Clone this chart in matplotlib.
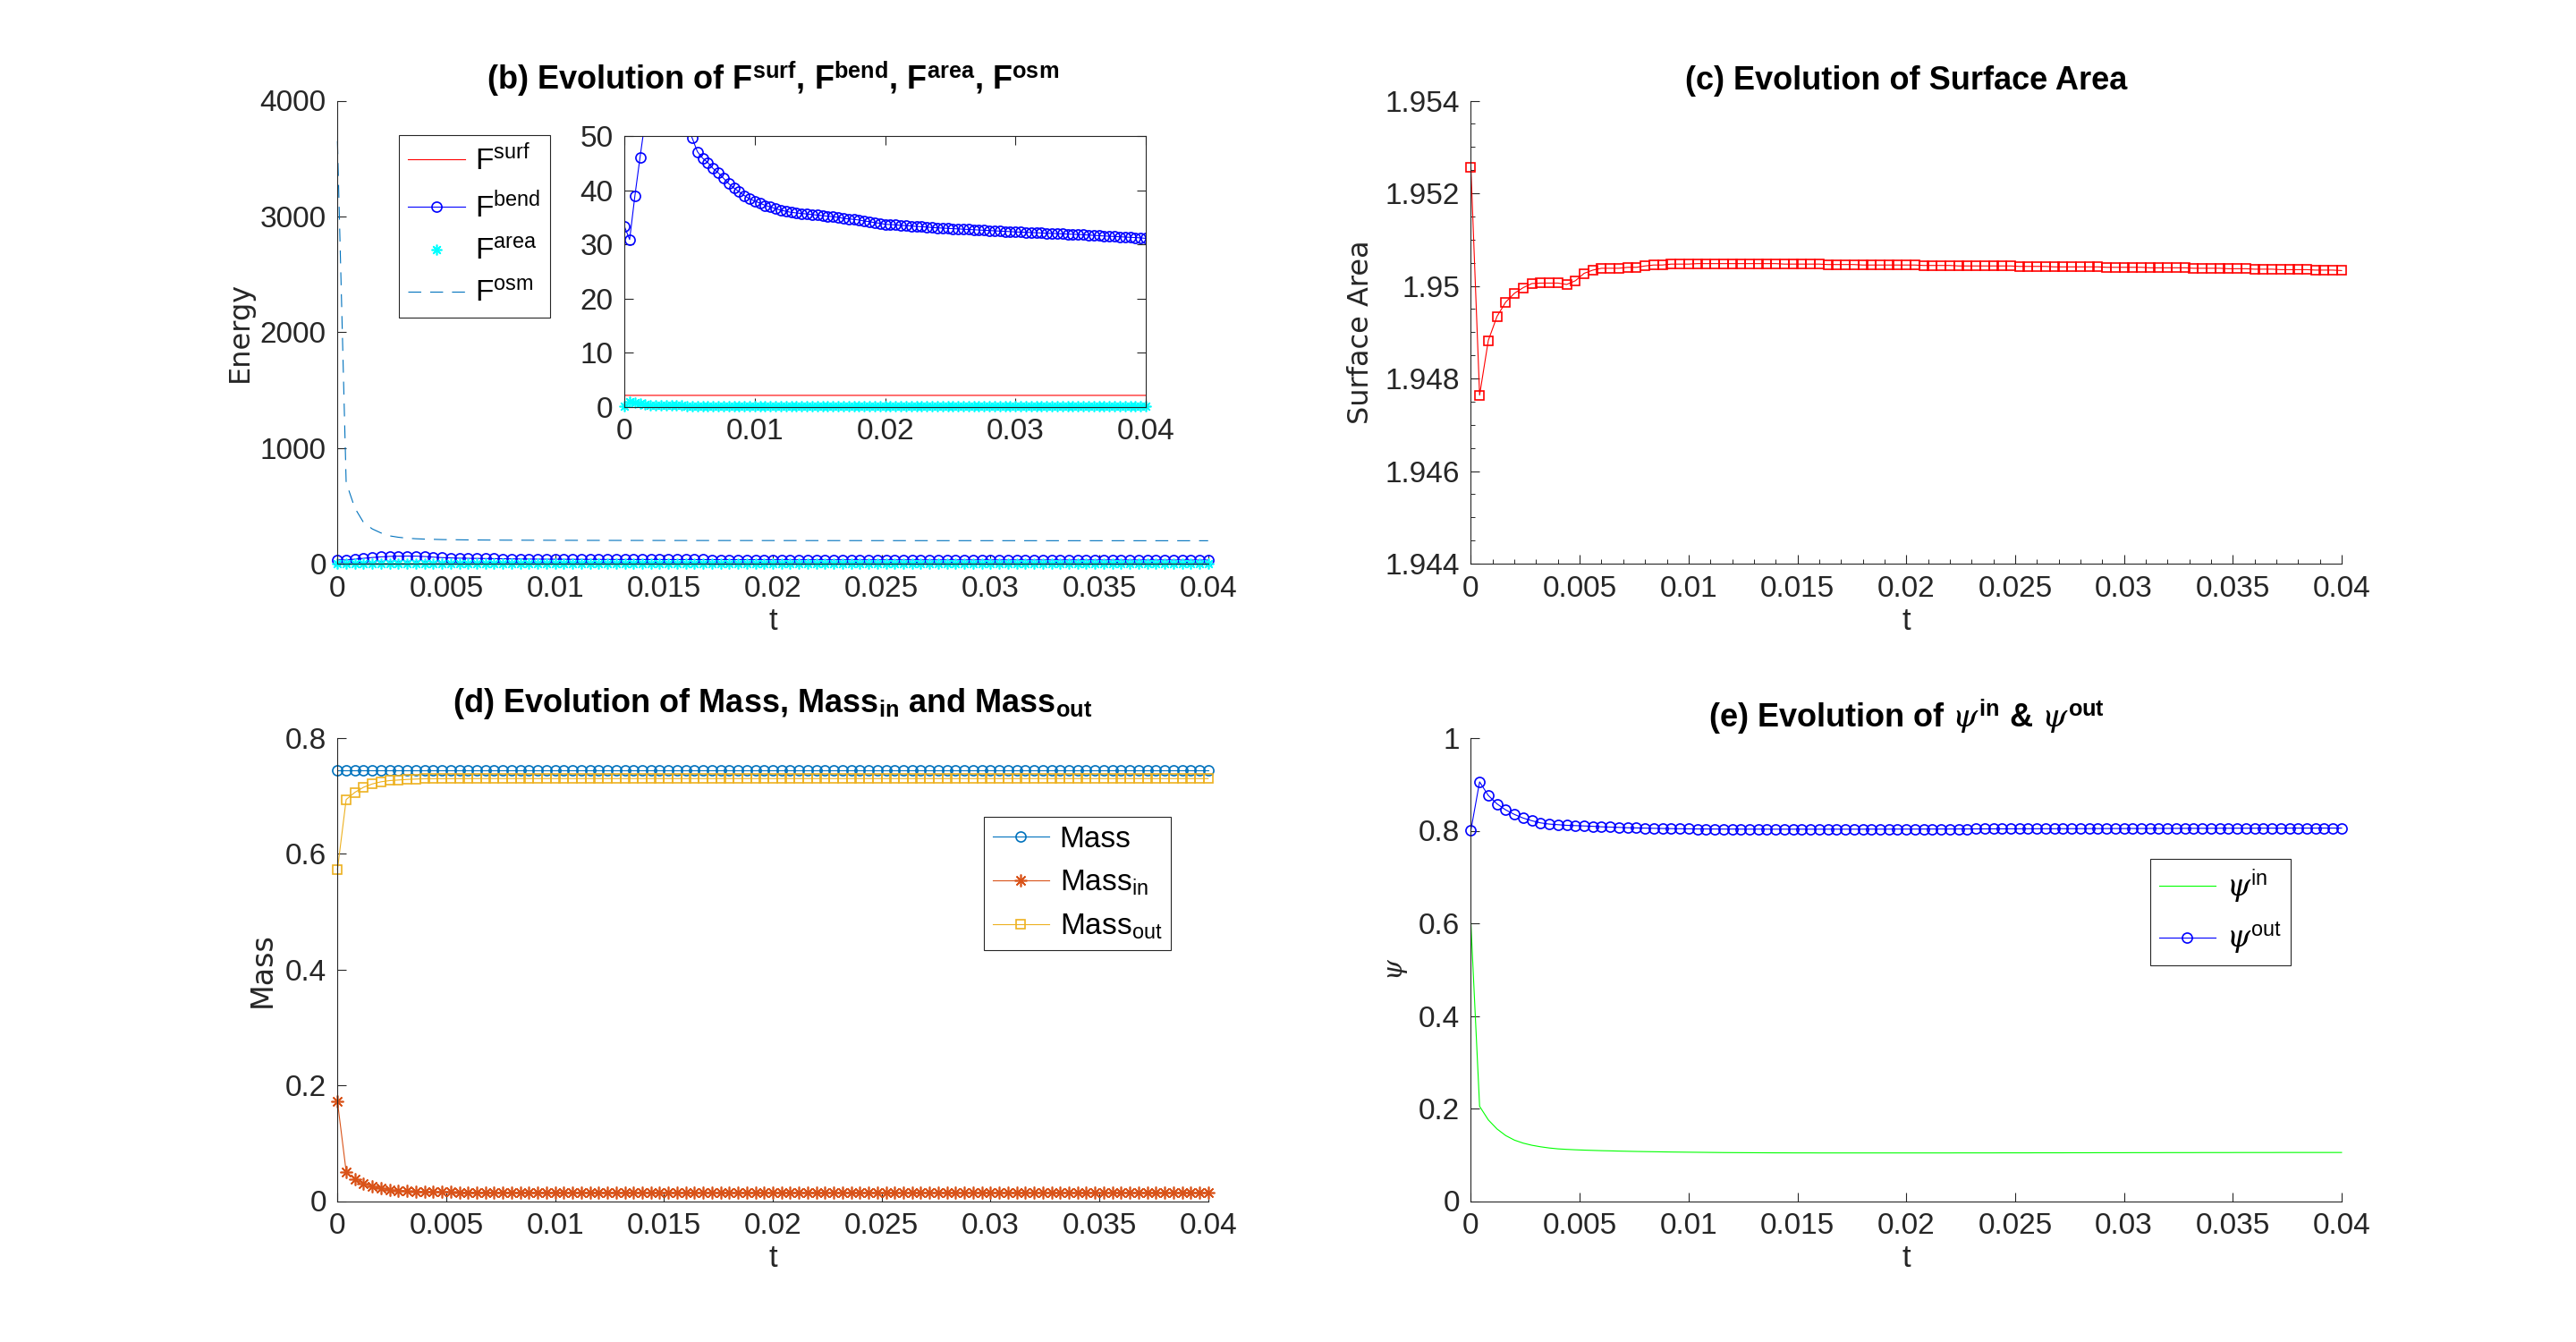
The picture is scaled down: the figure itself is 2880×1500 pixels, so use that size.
import numpy as np
import matplotlib
matplotlib.use("Agg")
import matplotlib.pyplot as plt
from matplotlib.ticker import FuncFormatter, MultipleLocator

plt.rcParams['font.family'] = ['Liberation Sans', 'DejaVu Sans']
plt.rcParams['mathtext.fontset'] = 'custom'
plt.rcParams['mathtext.rm'] = 'Liberation Sans'
plt.rcParams['mathtext.bf'] = 'Liberation Sans:bold'
plt.rcParams['mathtext.it'] = 'DejaVu Serif:italic'

# time grid: 101 saved steps, dt = 0.0004
t = np.round(np.arange(101) * 0.0004, 4)

# (b) energies
f_surf = [2.155, 2.148, 2.149, 2.15, 2.15, 2.15, 2.15, 2.15, 2.15, 2.15,
          2.15, 2.15, 2.15, 2.15, 2.15, 2.15, 2.15, 2.15, 2.15, 2.15,
          2.15, 2.15, 2.15, 2.15, 2.15, 2.15, 2.15, 2.15, 2.15, 2.15,
          2.15, 2.15, 2.15, 2.15, 2.15, 2.15, 2.15, 2.15, 2.15, 2.15,
          2.15, 2.15, 2.15, 2.15, 2.15, 2.15, 2.15, 2.15, 2.15, 2.15,
          2.15, 2.15, 2.15, 2.15, 2.15, 2.15, 2.15, 2.15, 2.15, 2.15,
          2.15, 2.15, 2.15, 2.15, 2.15, 2.15, 2.15, 2.15, 2.15, 2.15,
          2.15, 2.15, 2.15, 2.15, 2.15, 2.15, 2.15, 2.15, 2.15, 2.15,
          2.15, 2.15, 2.15, 2.15, 2.15, 2.15, 2.15, 2.15, 2.15, 2.15,
          2.15, 2.15, 2.15, 2.15, 2.15, 2.15, 2.15, 2.15, 2.15, 2.15,
          2.15]
f_bend = [33.3, 30.9, 38.9, 46.1, 53.0, 58.5, 62.5, 64.5, 65.5, 65.0,
          61.5, 56.5, 52.2, 49.6, 47.1, 45.9, 45.1, 44.0, 43.2, 42.2,
          41.2, 40.4, 39.7, 39.0, 38.4, 38.0, 37.6, 37.2, 36.9, 36.6,
          36.3, 36.1, 35.9, 35.8, 35.7, 35.6, 35.5, 35.4, 35.3, 35.2,
          35.1, 35.0, 34.8, 34.7, 34.6, 34.5, 34.3, 34.2, 34.0, 33.9,
          33.7, 33.65, 33.6, 33.5, 33.45, 33.4, 33.3, 33.25, 33.2, 33.1,
          33.05, 33.0, 32.95, 32.9, 32.85, 32.8, 32.75, 32.7, 32.65, 32.6,
          32.55, 32.5, 32.45, 32.4, 32.35, 32.3, 32.26, 32.22, 32.18, 32.14,
          32.1, 32.06, 32.02, 31.98, 31.94, 31.9, 31.86, 31.82, 31.78, 31.72,
          31.66, 31.6, 31.55, 31.5, 31.45, 31.4, 31.35, 31.3, 31.25, 31.2,
          31.1]
f_area = [0.1, 0.9, 0.8, 0.6, 0.5, 0.4, 0.35, 0.3, 0.28, 0.26,
          0.25, 0.24, 0.23, 0.22, 0.22, 0.21, 0.21, 0.2, 0.2, 0.2,
          0.2, 0.2, 0.2, 0.2, 0.2, 0.2, 0.2, 0.2, 0.2, 0.2,
          0.2, 0.2, 0.2, 0.2, 0.2, 0.2, 0.2, 0.2, 0.2, 0.2,
          0.19, 0.19, 0.19, 0.19, 0.19, 0.19, 0.19, 0.19, 0.19, 0.19,
          0.19, 0.19, 0.19, 0.19, 0.19, 0.18, 0.18, 0.18, 0.18, 0.18,
          0.18, 0.18, 0.18, 0.18, 0.18, 0.18, 0.18, 0.18, 0.18, 0.18,
          0.18, 0.18, 0.18, 0.18, 0.18, 0.17, 0.17, 0.17, 0.17, 0.17,
          0.17, 0.17, 0.17, 0.17, 0.17, 0.17, 0.17, 0.17, 0.17, 0.17,
          0.17, 0.17, 0.17, 0.17, 0.17, 0.17, 0.17, 0.17, 0.17, 0.17,
          0.17]
f_osm = [3650, 700, 480, 355, 300, 265, 240, 228, 220, 215,
         212, 210, 208, 207, 206, 205, 204.5, 204, 203.5, 203,
         202.8, 202.6, 202.4, 202.2, 202, 201.8, 201.6, 201.4, 201.2, 201,
         200.9, 200.8, 200.7, 200.6, 200.5, 200.4, 200.3, 200.2, 200.1, 200.0,
         199.95, 199.9, 199.85, 199.8, 199.75, 199.7, 199.65, 199.6, 199.55, 199.5,
         199.45, 199.4, 199.35, 199.3, 199.25, 199.2, 199.15, 199.1, 199.05, 199.0,
         198.95, 198.9, 198.86, 198.82, 198.78, 198.74, 198.7, 198.66, 198.62, 198.58,
         198.54, 198.5, 198.47, 198.44, 198.41, 198.38, 198.35, 198.32, 198.29, 198.26,
         198.23, 198.2, 198.18, 198.16, 198.14, 198.12, 198.1, 198.08, 198.06, 198.04,
         198.02, 198.0, 197.98, 197.96, 197.94, 197.92, 197.9, 197.88, 197.86, 197.84,
         197.82]

# (c) surface area
area = [1.95256, 1.94764, 1.94882, 1.94934, 1.94965, 1.94984, 1.94996, 1.95005, 1.95006, 1.95006,
        1.95006, 1.95003, 1.95011, 1.95027, 1.95034, 1.95038, 1.95038, 1.95038, 1.9504, 1.9504,
        1.95043, 1.95045, 1.95045, 1.95047, 1.95047, 1.95047, 1.95048, 1.95048, 1.95048, 1.95048,
        1.95048, 1.95048, 1.95048, 1.95048, 1.95048, 1.95048, 1.95047, 1.95047, 1.95047, 1.95047,
        1.95047, 1.95046, 1.95046, 1.95046, 1.95046, 1.95045, 1.95045, 1.95045, 1.95045, 1.95045,
        1.95045, 1.95045, 1.95044, 1.95044, 1.95044, 1.95044, 1.95043, 1.95043, 1.95043, 1.95043,
        1.95043, 1.95043, 1.95043, 1.95042, 1.95042, 1.95042, 1.95042, 1.95041, 1.95041, 1.95041,
        1.95041, 1.95041, 1.95041, 1.9504, 1.9504, 1.9504, 1.9504, 1.9504, 1.95039, 1.95039,
        1.95039, 1.95039, 1.95039, 1.95038, 1.95038, 1.95038, 1.95038, 1.95037, 1.95037, 1.95037,
        1.95036, 1.95036, 1.95036, 1.95035, 1.95035, 1.95035, 1.95035, 1.95034, 1.95034, 1.95034,
        1.95033]

# (d) masses
mass = [0.7438, 0.7438, 0.7438, 0.7438, 0.7438, 0.7438, 0.7438, 0.7438, 0.7438, 0.7438,
        0.7438, 0.7438, 0.7438, 0.7438, 0.7438, 0.7438, 0.7438, 0.7438, 0.7438, 0.7438,
        0.7438, 0.7438, 0.7438, 0.7438, 0.7438, 0.7438, 0.7438, 0.7438, 0.7438, 0.7438,
        0.7438, 0.7438, 0.7438, 0.7438, 0.7438, 0.7438, 0.7438, 0.7438, 0.7438, 0.7438,
        0.7438, 0.7438, 0.7438, 0.7438, 0.7438, 0.7438, 0.7438, 0.7438, 0.7438, 0.7438,
        0.7438, 0.7438, 0.7438, 0.7438, 0.7438, 0.7438, 0.7438, 0.7438, 0.7438, 0.7438,
        0.7438, 0.7438, 0.7438, 0.7438, 0.7438, 0.7438, 0.7438, 0.7438, 0.7438, 0.7438,
        0.7438, 0.7438, 0.7438, 0.7438, 0.7438, 0.7438, 0.7438, 0.7438, 0.7438, 0.7438,
        0.7438, 0.7438, 0.7438, 0.7438, 0.7438, 0.7438, 0.7438, 0.7438, 0.7438, 0.7438,
        0.7438, 0.7438, 0.7438, 0.7438, 0.7438, 0.7438, 0.7438, 0.7438, 0.7438, 0.7438,
        0.7438]
mass_in = [0.1719, 0.0510, 0.0375, 0.0302, 0.0250, 0.0219, 0.0198, 0.0182, 0.0172, 0.0167,
           0.0161, 0.0158, 0.0156, 0.0155, 0.0154, 0.0153, 0.0152, 0.0151, 0.0150, 0.0150,
           0.0149, 0.0149, 0.0148, 0.0148, 0.0148, 0.0147, 0.0147, 0.0147, 0.0147, 0.0146,
           0.0146, 0.0146, 0.0146, 0.0146, 0.0146, 0.0145, 0.0145, 0.0145, 0.0145, 0.0145,
           0.0145, 0.0145, 0.0145, 0.0144, 0.0144, 0.0144, 0.0144, 0.0144, 0.0144, 0.0144,
           0.0144, 0.0144, 0.0144, 0.0144, 0.0144, 0.0144, 0.0144, 0.0144, 0.0144, 0.0144,
           0.0143, 0.0143, 0.0143, 0.0143, 0.0143, 0.0143, 0.0143, 0.0143, 0.0143, 0.0143,
           0.0143, 0.0143, 0.0143, 0.0143, 0.0143, 0.0143, 0.0143, 0.0143, 0.0143, 0.0143,
           0.0143, 0.0143, 0.0143, 0.0143, 0.0143, 0.0143, 0.0143, 0.0143, 0.0143, 0.0143,
           0.0143, 0.0143, 0.0143, 0.0143, 0.0143, 0.0143, 0.0143, 0.0143, 0.0143, 0.0143,
           0.0143]
mass_out = [0.5729, 0.6938, 0.7063, 0.7151, 0.7208, 0.7245, 0.7266, 0.7276, 0.7286, 0.7292,
            0.7297, 0.7297, 0.7298, 0.7298, 0.7299, 0.7299, 0.7300, 0.7300, 0.7300, 0.7300,
            0.7300, 0.7300, 0.7300, 0.7300, 0.7300, 0.7300, 0.7300, 0.7300, 0.7300, 0.7300,
            0.7300, 0.7300, 0.7300, 0.7300, 0.7300, 0.7300, 0.7300, 0.7300, 0.7300, 0.7300,
            0.7300, 0.7300, 0.7300, 0.7300, 0.7300, 0.7300, 0.7300, 0.7300, 0.7300, 0.7300,
            0.7300, 0.7300, 0.7300, 0.7300, 0.7300, 0.7300, 0.7300, 0.7300, 0.7300, 0.7300,
            0.7300, 0.7300, 0.7300, 0.7300, 0.7300, 0.7300, 0.7300, 0.7300, 0.7300, 0.7300,
            0.7300, 0.7300, 0.7300, 0.7300, 0.7300, 0.7300, 0.7300, 0.7300, 0.7300, 0.7300,
            0.7300, 0.7300, 0.7300, 0.7300, 0.7300, 0.7300, 0.7300, 0.7300, 0.7300, 0.7300,
            0.7300, 0.7300, 0.7300, 0.7300, 0.7300, 0.7300, 0.7300, 0.7300, 0.7300, 0.7300,
            0.7300]

# (e) psi
psi_in = [0.6004, 0.2047, 0.1754, 0.1558, 0.1415, 0.1317, 0.1252, 0.1206, 0.1173, 0.1147,
          0.1128, 0.1117, 0.1108, 0.1101, 0.1095, 0.1089, 0.1085, 0.1080, 0.1076, 0.1072,
          0.1069, 0.1066, 0.1063, 0.1060, 0.1058, 0.1056, 0.1054, 0.1052, 0.1050, 0.1048,
          0.1047, 0.1046, 0.1045, 0.1044, 0.1043, 0.1042, 0.1042, 0.1041, 0.1041, 0.1041,
          0.1040, 0.1040, 0.1040, 0.1040, 0.1040, 0.1040, 0.1040, 0.1040, 0.1040, 0.1040,
          0.1040, 0.1040, 0.1040, 0.1040, 0.1040, 0.1040, 0.1041, 0.1041, 0.1041, 0.1041,
          0.1041, 0.1042, 0.1042, 0.1042, 0.1042, 0.1043, 0.1043, 0.1043, 0.1043, 0.1044,
          0.1044, 0.1044, 0.1045, 0.1045, 0.1045, 0.1045, 0.1046, 0.1046, 0.1046, 0.1046,
          0.1047, 0.1047, 0.1047, 0.1047, 0.1048, 0.1048, 0.1048, 0.1048, 0.1049, 0.1049,
          0.1049, 0.1049, 0.1049, 0.1050, 0.1050, 0.1050, 0.1050, 0.1050, 0.1050, 0.1050,
          0.1050]
psi_out = [0.8012, 0.9055, 0.8761, 0.8579, 0.8449, 0.8351, 0.8273, 0.8215, 0.8169, 0.8143,
           0.8130, 0.8116, 0.8110, 0.8103, 0.8095, 0.8084, 0.8078, 0.8072, 0.8064, 0.8060,
           0.8056, 0.8052, 0.8048, 0.8045, 0.8042, 0.8040, 0.8038, 0.8037, 0.8036, 0.8035,
           0.8035, 0.8034, 0.8034, 0.8034, 0.8033, 0.8033, 0.8033, 0.8033, 0.8033, 0.8033,
           0.8033, 0.8033, 0.8033, 0.8033, 0.8033, 0.8033, 0.8034, 0.8034, 0.8034, 0.8035,
           0.8035, 0.8035, 0.8036, 0.8036, 0.8037, 0.8037, 0.8038, 0.8038, 0.8039, 0.8039,
           0.8040, 0.8040, 0.8041, 0.8041, 0.8042, 0.8042, 0.8043, 0.8043, 0.8044, 0.8044,
           0.8045, 0.8045, 0.8046, 0.8046, 0.8047, 0.8047, 0.8048, 0.8048, 0.8049, 0.8049,
           0.8050, 0.8050, 0.8051, 0.8051, 0.8052, 0.8052, 0.8053, 0.8053, 0.8054, 0.8054,
           0.8054, 0.8055, 0.8055, 0.8055, 0.8056, 0.8056, 0.8056, 0.8056, 0.8057, 0.8057,
           0.8057]

x_ticks = [0, 0.005, 0.01, 0.015, 0.02, 0.025, 0.03, 0.035, 0.04]

AX_COL = '#262626'
TICK_FS = 24
TITLE_FS = 26
LBL_FS = 25
LEG_FS = 24
MEW = 1.2
ASTER = (8, 2, 0)
gfmt = FuncFormatter(lambda v, p: '%g' % round(v, 6))


def style(ax, box=False):
    ax.tick_params(direction='in', length=7, width=0.8, colors=AX_COL,
                   labelsize=TICK_FS, pad=9)
    ax.tick_params(which='minor', direction='in', length=3.6, width=0.7, colors=AX_COL)
    for s in ax.spines.values():
        s.set_linewidth(0.8)
        s.set_color(AX_COL)
    if not box:
        ax.spines['top'].set_visible(False)
        ax.spines['right'].set_visible(False)
    else:
        ax.tick_params(top=True, right=True)
    ax.xaxis.set_major_formatter(gfmt)
    ax.yaxis.set_major_formatter(gfmt)


def add_legend(ax, anchor):
    leg = ax.legend(loc='upper left', bbox_to_anchor=anchor, fontsize=LEG_FS,
                    frameon=True, fancybox=False, edgecolor=AX_COL, framealpha=1,
                    handlelength=1.9, handletextpad=0.35, labelspacing=0.5,
                    borderpad=0.3, borderaxespad=0, numpoints=1)
    leg.get_frame().set_linewidth(0.8)
    return leg


fig = plt.figure(figsize=(28.8, 15), dpi=100)

# ---- (b) energies
ax = fig.add_axes([0.131, 0.580, 0.338, 0.345])
ax.plot(t, f_surf, 'r-', lw=0.8, label=r'F$^{\mathrm{surf}}$', clip_on=False)
ax.plot(t, f_bend, 'b-o', lw=0.8, ms=8, mfc='none', mew=MEW,
        label=r'F$^{\mathrm{bend}}$', clip_on=False)
ax.plot(t, f_area, ls='none', marker=ASTER, color='#00FFFF', ms=8.5, mew=MEW,
        label=r'F$^{\mathrm{area}}$', clip_on=False)
ax.plot(t, f_osm, ls='--', color='#0072BD', lw=0.8, dashes=(13, 9),
        label=r'F$^{\mathrm{osm}}$', clip_on=False)
ax.set_xlim(0, 0.04)
ax.set_ylim(0, 4000)
ax.set_xticks(x_ticks)
ax.set_yticks([0, 1000, 2000, 3000, 4000])
style(ax)
ax.set_xlabel('t', fontsize=LBL_FS, color=AX_COL, labelpad=3)
ax.set_ylabel('Energy', fontsize=23, family='DejaVu Sans', color=AX_COL, labelpad=5)
ax.set_title(r'(b) Evolution of F$^{\mathbf{surf}}$, F$^{\mathbf{bend}}$, '
             r'F$^{\mathbf{area}}$, F$^{\mathbf{osm}}$',
             fontsize=TITLE_FS, fontweight='bold', pad=9)
add_legend(ax, (0.071, 0.925))

# inset
axi = fig.add_axes([0.2424, 0.6967, 0.2024, 0.202])
axi.plot(t, f_surf, 'r-', lw=0.8)
axi.plot(t, f_bend, 'b-o', lw=0.8, ms=8, mfc='none', mew=MEW)
axi.plot(t, f_area, ls='none', marker=ASTER, color='#00FFFF', ms=8.5, mew=MEW, clip_on=False)
axi.plot(t, f_osm, ls='--', color='#0072BD', lw=0.8, dashes=(13, 9))
axi.set_xlim(0, 0.04)
axi.set_ylim(0, 50)
axi.set_xticks([0, 0.01, 0.02, 0.03, 0.04])
axi.set_yticks([0, 10, 20, 30, 40, 50])
style(axi, box=True)

# ---- (c) surface area
ax = fig.add_axes([0.571, 0.580, 0.338, 0.345])
ax.plot(t, area, 'r-s', lw=0.8, ms=7.5, mfc='none', mew=MEW, clip_on=False)
ax.set_xlim(0, 0.04)
ax.set_ylim(1.944, 1.954)
ax.set_xticks(x_ticks)
ax.set_yticks([1.944, 1.946, 1.948, 1.95, 1.952, 1.954])
ax.xaxis.set_minor_locator(MultipleLocator(0.001))
ax.yaxis.set_minor_locator(MultipleLocator(0.0005))
style(ax)
ax.set_xlabel('t', fontsize=LBL_FS, color=AX_COL, labelpad=3)
ax.set_ylabel('Surface Area', fontsize=23, family='DejaVu Sans', color=AX_COL, labelpad=8)
ax.set_title('(c) Evolution of Surface Area', fontsize=TITLE_FS, fontweight='bold', pad=9)

# ---- (d) masses
ax = fig.add_axes([0.131, 0.105, 0.338, 0.345])
ax.plot(t, mass, '-o', color='#0072BD', lw=0.8, ms=8, mfc='none', mew=MEW,
        label='Mass', clip_on=False)
ax.plot(t, mass_in, '-', marker=ASTER, color='#D95319', lw=0.8, ms=10, mew=MEW,
        label=r'Mass$_{\mathrm{in}}$', clip_on=False)
ax.plot(t, mass_out, '-s', color='#EDB120', lw=0.8, ms=7.5, mfc='none', mew=MEW,
        label=r'Mass$_{\mathrm{out}}$', clip_on=False)
ax.set_xlim(0, 0.04)
ax.set_ylim(0, 0.8)
ax.set_xticks(x_ticks)
ax.set_yticks([0, 0.2, 0.4, 0.6, 0.8])
style(ax)
ax.set_xlabel('t', fontsize=LBL_FS, color=AX_COL, labelpad=3)
ax.set_ylabel('Mass', fontsize=24, family='DejaVu Sans', color=AX_COL, labelpad=6)
ax.set_title(r'(d) Evolution of Mass, Mass$_{\mathbf{in}}$ and Mass$_{\mathbf{out}}$',
             fontsize=TITLE_FS, fontweight='bold', pad=21)
add_legend(ax, (0.742, 0.83))

# ---- (e) psi
ax = fig.add_axes([0.571, 0.105, 0.338, 0.345])
ax.plot(t, psi_in, '-', color='#00FF00', lw=0.8, label=r'$\psi^{\mathrm{in}}$', clip_on=False)
ax.plot(t, psi_out, 'b-o', lw=0.8, ms=8, mfc='none', mew=MEW,
        label=r'$\psi^{\mathrm{out}}$', clip_on=False)
ax.set_xlim(0, 0.04)
ax.set_ylim(0, 1)
ax.set_xticks(x_ticks)
ax.set_yticks([0, 0.2, 0.4, 0.6, 0.8, 1])
style(ax)
ax.set_xlabel('t', fontsize=LBL_FS, color=AX_COL, labelpad=3)
ax.set_ylabel(r'$\psi$', fontsize=21, color=AX_COL, labelpad=7)
ax.set_title(r'(e) Evolution of $\psi^{\mathbf{in}}$ & $\psi^{\mathbf{out}}$',
             fontsize=TITLE_FS, fontweight='bold', pad=9)
add_legend(ax, (0.78, 0.74))

fig.savefig('out.png', dpi=100, facecolor='white')
